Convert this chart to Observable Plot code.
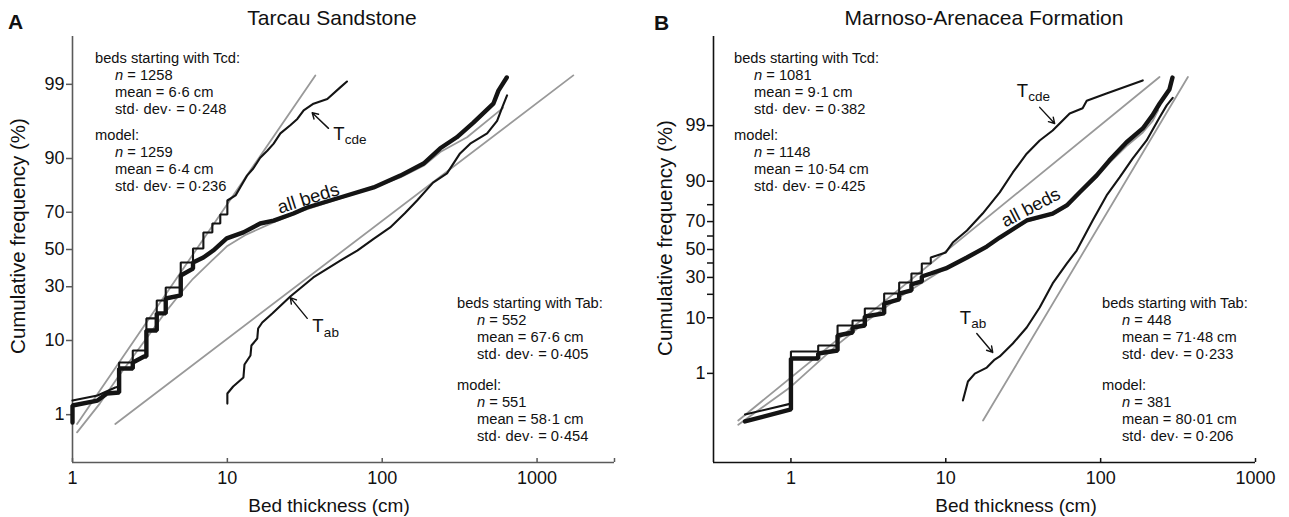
<!DOCTYPE html>
<html><head><meta charset="utf-8">
<script src="https://cdn.jsdelivr.net/npm/d3@7"></script>
<script src="https://cdn.jsdelivr.net/npm/@observablehq/plot@0.6"></script>
<style>
body{margin:0;background:#fff;}
#wrap{position:relative;width:1289px;height:517px;font-family:"Liberation Sans",Arial,Helvetica,sans-serif;color:#111;overflow:hidden;background:#fff;}
.panel{position:absolute;top:0;}
.abs{position:absolute;white-space:nowrap;}
.title{font-size:21px;transform:translate(-50%,-50%);}
.letter{font-size:21px;font-weight:bold;transform:translate(0,-50%);}
.xlab{font-size:19px;transform:translate(-50%,-50%);}
.ylab{font-size:20.5px;transform:translate(-50%,-50%) rotate(-90deg);}
.stats{font-size:14.7px;line-height:17px;}
.stats .ind{padding-left:20px;}
</style>
</head><body>
<div id="wrap"></div>
<script>
// ---------- Panel A: Tarcau Sandstone ----------
const aTcdX = [1, 1.45, 1.89, 2, 2, 2.45, 2.45, 3, 3, 3.5, 3.5, 4, 4, 5, 5, 6, 6, 7, 7, 8, 8, 9, 9, 10, 10, 11.3, 12.1, 13.4, 14.7, 16.3, 18.1, 19.9, 22, 25.5, 28.3, 31.1, 36, 44.2, 53.6, 59.2];
const aTcdP = [1.67, 1.99, 2.6, 2.68, 5.57, 5.57, 7.74, 7.74, 16.6, 16.6, 23.6, 23.6, 29.6, 29.6, 42.7, 42.7, 50.6, 50.6, 59.5, 59.5, 64.3, 64.3, 68.9, 68.9, 75.5, 77.7, 80.9, 85.1, 87.3, 90.2, 91.8, 93.2, 94.9, 96.0, 96.7, 97.5, 98.0, 98.3, 98.88, 99.10];
const aTcdModelX = [1.07, 37];
const aTcdModelP = [0.70, 99.29];
const aAllX = [1, 1, 1.45, 1.67, 2, 2, 2.45, 2.45, 2.9, 3, 3, 3.5, 3.5, 4, 4, 5, 5, 6, 6, 7, 8.1, 9.9, 12.7, 16.3, 19.9, 26.7, 32.7, 53.5, 88, 131, 185, 237, 303, 388, 522, 563, 637];
const aAllP = [0.74, 1.40, 1.67, 2.13, 2.20, 4.69, 4.69, 5.57, 6.59, 6.59, 12.7, 12.7, 18.4, 18.4, 24.5, 25.9, 35.7, 39.4, 42.7, 45.5, 49.4, 56.2, 59.5, 64.3, 65.8, 69.4, 72.3, 76.8, 80.9, 85.1, 88.7, 92.3, 94.3, 96.3, 98.0, 98.74, 99.23];
const aMixX = [1.07, 1.5, 2, 3, 4, 5, 6, 8, 10, 13, 20, 30, 50, 80, 131, 185, 237, 353, 603];
const aMixP = [0.5, 1.5, 3.8, 10.5, 19, 27, 34, 44, 52, 58, 65, 70.5, 75.8, 80, 84.5, 88.1, 91.5, 94.3, 97.7];
const aTabX = [10, 10, 10.9, 12.7, 12.9, 14.1, 14.3, 15.6, 15.8, 16.8, 19.5, 25.5, 35.9, 53.6, 69, 88, 112.6, 140, 168, 213, 262, 318, 370, 476, 552, 594, 640];
const aTabP = [1.50, 2.13, 2.68, 3.57, 5.26, 6.77, 8.82, 10.5, 13.3, 15.2, 18.4, 25.4, 34.7, 43.8, 49.4, 56, 62.2, 69.5, 75.5, 82.7, 85.8, 91.2, 93.2, 94.9, 96.5, 97.7, 98.5];
const aTabModelX = [1.89, 1714];
const aTabModelP = [0.70, 99.29];

// ---------- Panel B: Marnoso-Arenacea Formation ----------
const bTcdX = [0.505, 1, 1, 1.5, 1.5, 2, 2, 2.5, 2.5, 3, 3, 4, 4, 5, 5, 6, 6, 7, 7, 8, 8, 10, 11.1, 13.7, 17.3, 22.3, 27.1, 33.3, 40.4, 49, 63.1, 76.5, 81.3, 109, 187];
const bTcdP = [0.097, 0.19, 2.77, 2.77, 3.57, 3.57, 7.68, 7.68, 9.12, 9.12, 13.4, 13.4, 20.4, 20.4, 26.8, 26.8, 32.6, 32.6, 39.6, 39.6, 44.0, 47.8, 55.2, 63.9, 75.0, 85.8, 92.6, 96.4, 97.97, 98.73, 99.47, 99.60, 99.74, 99.83, 99.925];
const bTcdModelX = [0.457, 240];
const bTcdModelP = [0.066, 99.94];
const bAllX = [0.505, 1, 1, 1.5, 1.5, 2, 2, 2.5, 2.5, 3, 3, 4, 4, 5, 5, 6, 6, 7, 7, 8, 10, 13.7, 18.4, 22.3, 33.3, 49, 60.4, 73, 94.3, 114, 147, 187, 216, 240, 278, 291];
const bAllP = [0.062, 0.133, 2.03, 2.03, 2.54, 2.89, 5.32, 5.95, 7.15, 7.68, 10.4, 11.5, 15.5, 17.4, 20.4, 22.1, 25.6, 27.4, 30.6, 32.6, 36.1, 44.0, 52.2, 58.9, 70.7, 75.0, 79.6, 85.8, 91.8, 95.3, 97.8, 98.85, 99.41, 99.69, 99.867, 99.938];
const bMixX = [0.457, 1, 2, 3, 5, 7, 10, 15, 22.3, 33.3, 49, 60.4, 73, 94.3, 114, 147, 187, 216, 235];
const bMixP = [0.05, 0.50, 3.7, 8.5, 18.5, 26.5, 36.5, 47, 58.5, 70, 74.5, 79, 85.3, 91.3, 94.8, 97.4, 98.6, 99.2, 99.55];
const bTabX = [12.9, 13.9, 15.4, 18.4, 20.7, 22.3, 27.1, 33.3, 40.4, 49, 60.4, 70, 88.8, 109.3, 132.6, 160.8, 198, 240, 267, 292];
const bTabP = [0.23, 0.66, 0.99, 1.33, 1.94, 2.23, 3.88, 7.15, 13.8, 26.2, 39.6, 49.2, 70.7, 84.5, 91.2, 95.6, 97.97, 99.34, 99.66, 99.78];
const bTabModelX = [17.4, 366];
const bTabModelP = [0.066, 99.94];

// ---------- Axes ----------
const xTicksA = [1, 10, 100, 1000];
const xTicksB = [1, 10, 100, 1000];
const yTickPA = [1, 10, 30, 50, 70, 90, 99];
const yTickLabelsA = ["1", "10", "30", "50", "70", "90", "99"];
const yTickPB = [1, 10, 20, 30, 40, 50, 60, 70, 80, 90, 99];
const yTickLabelsB = ["1", "10", "", "30", "", "50", "", "70", "", "90", "99"];

// ---------- Text ----------
const titles = ["Tarcau Sandstone", "Marnoso-Arenacea Formation"];
const letters = ["A", "B"];
const xLabel = "Bed thickness (cm)";
const yLabel = "Cumulative frequency (%)";
const headers = ["beds starting with Tcd:", "beds starting with Tab:"];
const aTcdStats = ["1258", "6·6", "0·248"], aTcdModelStats = ["1259", "6·4", "0·236"];
const aTabStats = ["552", "67·6", "0·405"], aTabModelStats = ["551", "58·1", "0·454"];
const bTcdStats = ["1081", "9·1", "0·382"], bTcdModelStats = ["1148", "10·54", "0·425"];
const bTabStats = ["448", "71·48", "0·233"], bTabModelStats = ["381", "80·01", "0·206"];

// curve labels (data coordinates: thickness, cumulative %)
const aLabels = [{t: "T", sub: "cde", x: 48.3, p: 94.8}, {t: "T", sub: "ab", x: 35.4, p: 13.9}];
const aAllBeds = [{t: "all beds", x: 33.3, p: 76.4}];
const aArrows = [{x1: 45, p1: 95.6, x2: 35.3, p2: 97.3}, {x1: 32.8, p1: 16.6, x2: 25.5, p2: 24.9}];
const bLabels = [{t: "T", sub: "cde", x: 28.7, p: 99.854}, {t: "T", sub: "ab", x: 12.3, p: 9.9}];
const bAllBeds = [{t: "all beds", x: 35.4, p: 78.5}];
const bArrows = [{x1: 40.4, p1: 99.62, x2: 50.5, p2: 99.10}, {x1: 15.85, p1: 5.74, x2: 20.1, p2: 2.66}];

// inverse standard normal CDF (probability-paper scale)
function probit(p) {
  const a=[-3.969683028665376e+01,2.209460984245205e+02,-2.759285104469687e+02,1.383577518672690e+02,-3.066479806614716e+01,2.506628277459239e+00];
  const b=[-5.447609879822406e+01,1.615858368580409e+02,-1.556989798598866e+02,6.680131188771972e+01,-1.328068155288572e+01];
  const c=[-7.784894002430293e-03,-3.223964580411365e-01,-2.400758277161838e+00,-2.549671348283419e+00,4.374664141464968e+00,2.938163982698783e+00];
  const d=[7.784695709041462e-03,3.224671290700398e-01,2.445134137142996e+00,3.754408661907416e+00];
  const pl=0.02425, ph=1-pl;
  if (p < pl) { const q=Math.sqrt(-2*Math.log(p)); return (((((c[0]*q+c[1])*q+c[2])*q+c[3])*q+c[4])*q+c[5])/((((d[0]*q+d[1])*q+d[2])*q+d[3])*q+1); }
  if (p <= ph) { const q=p-0.5, r=q*q; return (((((a[0]*r+a[1])*r+a[2])*r+a[3])*r+a[4])*r+a[5])*q/(((((b[0]*r+b[1])*r+b[2])*r+b[3])*r+b[4])*r+1); }
  const q=Math.sqrt(-2*Math.log(1-p)); return -(((((c[0]*q+c[1])*q+c[2])*q+c[3])*q+c[4])*q+c[5])/((((d[0]*q+d[1])*q+d[2])*q+d[3])*q+1);
}
const Z = p => probit(p / 100);
const table = (xs, ps) => xs.map((x, i) => ({x, p: ps[i]}));

const BLACK = "#141414", GRAY = "#999999";

function panel(o) {
  const H = 517, mt = 36, mb = 55;
  const zTicks = o.yTickP.map(Z);
  const lab = new Map(zTicks.map((z, i) => [z, o.yTickLabels[i]]));
  const y = d => Z(d.p);
  const grayLines = o.gray.map(s => Plot.line(s, {x: "x", y, stroke: GRAY, strokeWidth: 1.8}));
  const thin = o.thin.map(s => Plot.line(s, {x: "x", y, stroke: BLACK, strokeWidth: 2.1, strokeLinejoin: "miter"}));
  const thick = Plot.line(o.thick, {x: "x", y, stroke: BLACK, strokeWidth: 4.4, strokeLinejoin: "miter"});
  return Plot.plot({
    width: o.width, height: H,
    marginLeft: o.ml, marginRight: o.mr, marginTop: mt, marginBottom: mb,
    style: {fontFamily: "Liberation Sans, Arial, sans-serif", fontSize: "18px", color: "#111", background: "transparent", overflow: "visible"},
    x: {type: "log", domain: o.xDomain, label: null},
    y: {type: "linear", domain: o.zDomain, label: null},
    marks: [
      Plot.ruleX([o.xDomain[0]], {stroke: o.axisColor, strokeWidth: 1.6}),
      Plot.ruleY([o.zDomain[0]], {stroke: o.axisColor, strokeWidth: 1.6}),
      Plot.axisY({ticks: zTicks, tickSize: 6, tickPadding: 2, tickFormat: z => lab.get(z), fontSize: 18, stroke: o.axisColor, strokeWidth: 1.5}),
      Plot.axisX({ticks: o.xTicks, tickSize: 0, tickPadding: 9, tickFormat: d => d3.format("d")(d), fontSize: 18}),
      Plot.tickX(o.xTickMarks, {x: d => d, insetTop: H - mt - mb - 4, stroke: o.axisColor, strokeWidth: 1.5}),
      ...grayLines,
      ...thin,
      thick,
      Plot.text(o.labels, {x: "x", y, text: "t", textAnchor: "start", lineAnchor: "middle", fontSize: 18.5, fill: "#111"}),
      Plot.text(o.labels, {x: "x", y, text: "sub", textAnchor: "start", lineAnchor: "middle", dx: 11.5, dy: 6, fontSize: 13.5, fill: "#111"}),
      Plot.text(o.allBeds, {x: "x", y, text: "t", rotate: o.rot, textAnchor: "middle", lineAnchor: "middle", fontSize: 18.5, fill: "#111"}),
      Plot.arrow(o.arrows, {x1: "x1", y1: d => Z(d.p1), x2: "x2", y2: d => Z(d.p2), stroke: "#111", strokeWidth: 1.4, headLength: 7})
    ]
  });
}

const plotA = panel({
  width: 640, ml: 72, mr: 26, xDomain: [1, Math.pow(10, 3.5)], zDomain: [-3, 3],
  xTicks: xTicksA, xTickMarks: [...xTicksA, Math.pow(10, 3.5)], yTickP: yTickPA, yTickLabels: yTickLabelsA,
  axisColor: "#5a5a5a",
  gray: [table(aTcdModelX, aTcdModelP), table(aTabModelX, aTabModelP), table(aMixX, aMixP)],
  thin: [table(aTcdX, aTcdP), table(aTabX, aTabP)],
  thick: table(aAllX, aAllP),
  labels: aLabels, allBeds: aAllBeds, rot: -17.6, arrows: aArrows
});
const plotB = panel({
  width: 649, ml: 73, mr: 34, xDomain: [Math.pow(10, -0.5), 1000], zDomain: [-4, 4],
  xTicks: xTicksB, xTickMarks: xTicksB, yTickP: yTickPB, yTickLabels: yTickLabelsB,
  axisColor: "#111",
  gray: [table(bTcdModelX, bTcdModelP), table(bTabModelX, bTabModelP), table(bMixX, bMixP)],
  thin: [table(bTcdX, bTcdP), table(bTabX, bTabP)],
  thick: table(bAllX, bAllP),
  labels: bLabels, allBeds: bAllBeds, rot: -27.6, arrows: bArrows
});

const wrap = document.getElementById("wrap");
const pa = document.createElement("div"); pa.className = "panel"; pa.style.left = "0px"; pa.appendChild(plotA); wrap.appendChild(pa);
const pb = document.createElement("div"); pb.className = "panel"; pb.style.left = "640px"; pb.appendChild(plotB); wrap.appendChild(pb);

function statsBlock(left, top, gap, header, s, m) {
  return `<div class="abs stats" style="left:${left}px;top:${top}px">
    <div>${header}</div>
    <div class="ind"><i>n</i> = ${s[0]}</div>
    <div class="ind">mean = ${s[1]} cm</div>
    <div class="ind">std· dev· = ${s[2]}</div>
    <div style="margin-top:${gap}px">model:</div>
    <div class="ind"><i>n</i> = ${m[0]}</div>
    <div class="ind">mean = ${m[1]} cm</div>
    <div class="ind">std· dev· = ${m[2]}</div>
  </div>`;
}

const overlay = document.createElement("div");
overlay.innerHTML = `
  <div class="abs letter" style="left:8px;top:22px">${letters[0]}</div>
  <div class="abs letter" style="left:654px;top:23px">${letters[1]}</div>
  <div class="abs title" style="left:332px;top:18px">${titles[0]}</div>
  <div class="abs title" style="left:984px;top:18px">${titles[1]}</div>
  <div class="abs xlab" style="left:329px;top:506px">${xLabel}</div>
  <div class="abs xlab" style="left:1016px;top:506px">${xLabel}</div>
  <div class="abs ylab" style="left:18px;top:236px">${yLabel}</div>
  <div class="abs ylab" style="left:665px;top:238px">${yLabel}</div>
  ${statsBlock(95, 49.5, 9, headers[0], aTcdStats, aTcdModelStats)}
  ${statsBlock(457, 294.5, 14, headers[1], aTabStats, aTabModelStats)}
  ${statsBlock(734, 49.5, 9, headers[0], bTcdStats, bTcdModelStats)}
  ${statsBlock(1102, 294.5, 14, headers[1], bTabStats, bTabModelStats)}
`;
wrap.appendChild(overlay);
</script>
</body></html>
